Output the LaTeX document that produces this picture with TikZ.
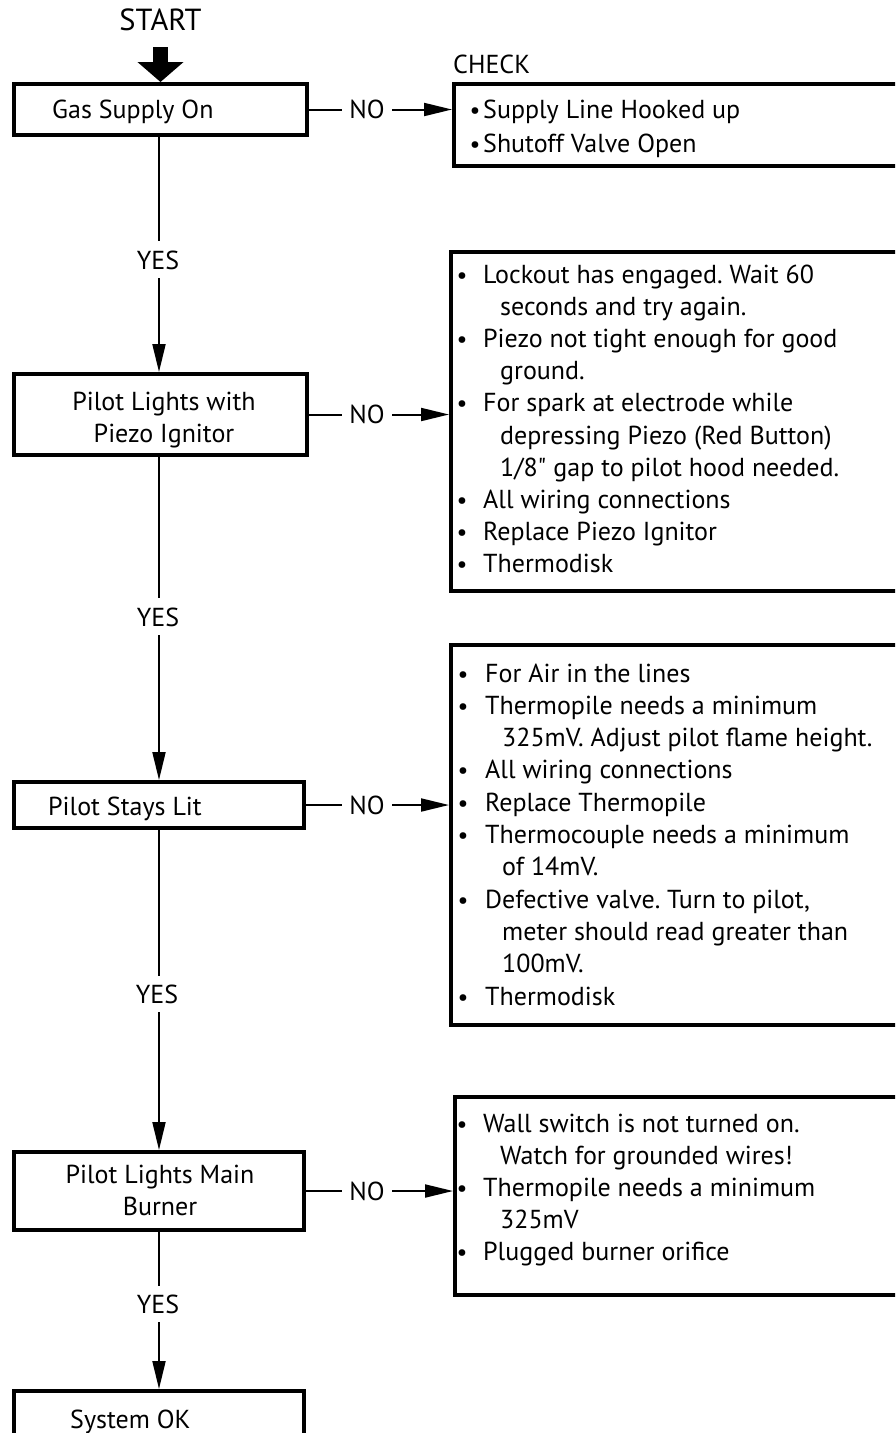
\documentclass[tikz,border=0pt]{standalone}
\usepackage{fontspec}
\setmainfont{PT Sans}
\usetikzlibrary{arrows.meta}
\frenchspacing
\newcommand\myItem[5]{%
  \node[bul] (#1b) at (#2,#4) {\textbullet};
  \node[txt] (#1) at (#3,#4) {#5};}
\newcommand\myCont[4]{\node[txt] (#1) at (#2,#3) {#4};}
\begin{document}
\begin{tikzpicture}[x=1pt,y=-1pt,
  box/.style={draw, line width=4pt, outer sep=2pt, inner sep=0pt, anchor=north west},
  conn/.style={line width=2pt, -{Triangle[length=28pt,width=13pt]}},
  txt/.style={inner sep=0pt, anchor=base west, font=\fontsize{26}{30}\selectfont},
  ctxt/.style={txt, anchor=base},
  bul/.style={inner sep=0pt, anchor=base, font=\fontsize{24}{28}\selectfont},
  lab/.style={fill=white, inner xsep=7pt, inner ysep=9pt, anchor=base, font=\fontsize{26}{30}\selectfont}
]
\useasboundingbox (0,0) rectangle (895,1433);
\clip (0,0) rectangle (895,1433);
\coordinate (axis) at (159,0);

% START
\node[inner sep=0pt, anchor=base, font=\fontsize{30.5}{36}\selectfont] (start) at (160.5,30) {START};

% left boxes
\node[box, minimum width=293pt, minimum height=51pt] (b1) at (12,82) {};
\node[box, minimum width=293pt, minimum height=81pt] (b2) at (12,372) {};
\node[box, minimum width=290pt, minimum height=46pt] (b3) at (12,780) {};
\node[box, minimum width=290pt, minimum height=78pt] (b4) at (12,1150) {};
\node[box, minimum width=290pt, minimum height=80pt] (b5) at (12,1389) {};

\node[txt] (t1) at (52,118) {Gas Supply On};
\node[ctxt] (t2a) at (164,410) {Pilot Lights with};
\node[ctxt] (t2b) at (164,442) {Piezo Ignitor};
\node[txt] (t3) at (48,815) {Pilot Stays Lit};
\node[ctxt] (t4a) at (160,1183) {Pilot Lights Main};
\node[ctxt] (t4b) at (160,1215) {Burner};
\node[txt] (t5) at (70,1428) {System OK};

% right boxes
\node[box, minimum width=460pt, minimum height=82pt] (r1) at (452,82) {};
\node[box, minimum width=460pt, minimum height=339pt] (r2) at (449,250) {};
\node[box, minimum width=460pt, minimum height=380pt] (r3) at (449,643) {};
\node[box, minimum width=460pt, minimum height=198pt] (r4) at (453,1095) {};

% START arrow
\draw[line width=15pt, -{Triangle[length=20pt,width=45pt]}] ([yshift=-17pt]start.base) -- (b1.north);

% vertical connectors
\draw[conn] (b1.south -| axis) -- (b2.north -| axis);
\draw[conn] (b2.south -| axis) -- (b3.north -| axis);
\draw[conn] (b3.south -| axis) -- (b4.north -| axis);
\draw[conn] (b4.south -| axis) -- (b5.north -| axis);
\node[lab] (y1) at (158,269) {YES};
\node[lab] (y2) at (158,626) {YES};
\node[lab] (y3) at (157,1003) {YES};
\node[lab] (y4) at (158,1313) {YES};

% NO connectors
\draw[conn] (b1.east) -- (r1.west |- b1.east);
\draw[conn] (b2.east) -- (r2.west |- b2.east);
\draw[conn] (b3.east) -- (r3.west |- b3.east);
\draw[conn] (b4.east) -- (r4.west |- b4.east);
\node[lab] (n1) at (367,118.5) {NO};
\node[lab] (n2) at (367,423.5) {NO};
\node[lab] (n3) at (367,814) {NO};
\node[lab] (n4) at (367,1200) {NO};

% CHECK box
\node[txt] (check) at (453,73) {CHECK};
\myItem{ra}{475}{483}{118}{Supply Line Hooked up}
\myItem{rb}{475}{483}{152}{Shutoff Valve Open}

% Piezo troubleshooting
\myItem{pa}{462}{483}{283}{Lockout has engaged. Wait 60}
\myCont{pb}{500}{315.2}{seconds and try again.}
\myItem{pc}{462}{483}{347.4}{Piezo not tight enough for good}
\myCont{pd}{500}{379.6}{ground.}
\myItem{pe}{462}{483}{411.8}{For spark at electrode while}
\myCont{pf}{500}{444}{depressing Piezo (Red Button)}
\myCont{pg}{500}{476.2}{1/8\textquotedbl{} gap to pilot hood needed.}
\myItem{ph}{462}{483}{508.4}{All wiring connections}
\myItem{pi}{462}{483}{540.6}{Replace Piezo Ignitor}
\myItem{pj}{462}{483}{572.8}{Thermodisk}

% Stays lit troubleshooting
\myItem{sa}{463}{485}{682}{For Air in the lines}
\myItem{sb}{463}{485}{714.3}{Thermopile needs a minimum}
\myCont{sc}{502}{746.6}{325mV. Adjust pilot flame height.}
\myItem{sd}{463}{485}{778.9}{All wiring connections}
\myItem{se}{463}{485}{811.2}{Replace Thermopile}
\myItem{sf}{463}{485}{843.5}{Thermocouple needs a minimum}
\myCont{sg}{502}{875.8}{of 14mV.}
\myItem{sh}{463}{485}{908.1}{Defective valve. Turn to pilot,}
\myCont{si}{502}{940.4}{meter should read greater than}
\myCont{sj}{502}{972.7}{100mV.}
\myItem{sk}{463}{485}{1005}{Thermodisk}

% Main burner troubleshooting
\myItem{ma}{462}{483}{1132}{Wall switch is not turned on.}
\myCont{mb}{500}{1164}{Watch for grounded wires!}
\myItem{mc}{462}{483}{1196}{Thermopile needs a minimum}
\myCont{md}{500}{1228}{325mV}
\myItem{me}{462}{483}{1260}{Plugged burner orifice}
\end{tikzpicture}
\end{document}
